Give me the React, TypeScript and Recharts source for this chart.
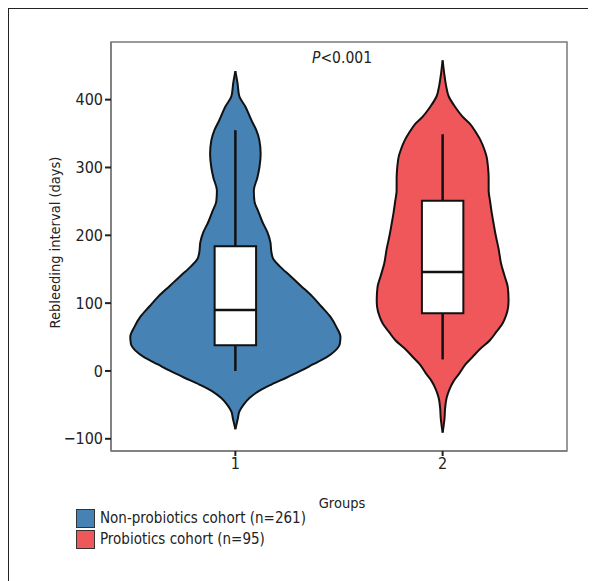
import React from "react";
import {
  ComposedChart,
  Area,
  XAxis,
  YAxis,
  ReferenceArea,
  ReferenceLine,
} from "recharts";

// y axis ticks (days) and group positions
const yTicks = [-100, 0, 100, 200, 300, 400];
const groupTicks = [1, 2];
const groupNames = ["Non-probiotics cohort (n=261)", "Probiotics cohort (n=95)"];
const groupColors = ["#4682B4", "#EF575A"];

// violin outlines: day value -> half width (in group-axis units)
const blueDays = [-86, -70, -60, -50, -40, -30, -20, -10, 0, 10, 20, 30, 40, 50, 65, 80, 95, 110, 125, 140, 155, 165, 175, 190, 205, 220, 235, 250, 266, 285, 300, 320, 340, 355, 370, 390, 405, 425, 442];
const blueHalfWidth = [0, 0.012, 0.019, 0.039, 0.068, 0.111, 0.174, 0.246, 0.314, 0.376, 0.439, 0.482, 0.504, 0.507, 0.487, 0.458, 0.415, 0.371, 0.318, 0.265, 0.212, 0.183, 0.174, 0.169, 0.154, 0.13, 0.111, 0.092, 0.089, 0.106, 0.116, 0.122, 0.116, 0.101, 0.077, 0.048, 0.019, 0.01, 0];

const redDays = [-91, -70, -55, -40, -28, -15, -4, 10, 21, 33, 45, 58, 70, 80, 94, 105, 124, 140, 158, 180, 200, 217, 235, 250, 266, 285, 300, 316, 325, 340, 350, 365, 375, 389, 405, 420, 440, 458];
const redHalfWidth = [0, 0.009, 0.012, 0.019, 0.032, 0.053, 0.08, 0.111, 0.145, 0.183, 0.227, 0.26, 0.289, 0.304, 0.316, 0.318, 0.314, 0.299, 0.282, 0.27, 0.256, 0.246, 0.236, 0.229, 0.222, 0.222, 0.219, 0.212, 0.203, 0.183, 0.164, 0.13, 0.096, 0.061, 0.029, 0.017, 0.007, 0];

// box plot stats per group
const boxStats = [
  { group: 1, min: 0, q1: 38, median: 90, q3: 184, max: 355 },
  { group: 2, min: 17, q1: 85, median: 146, q3: 251, max: 349 },
];
const boxHalf = 0.1;

const xDomain = [0.4, 2.6];
const yDomain = [-118, 485];

const toRows = (center: number, days: number[], half: number[]) =>
  days.map((d, i) => ({ y: d, band: [center - half[i], center + half[i]] }));

const violins = [
  toRows(1, blueDays, blueHalfWidth),
  toRows(2, redDays, redHalfWidth),
];

const fmt = (v: number) => (v < 0 ? "\u2212" + Math.abs(v) : String(v));

const font = '"Liberation Sans Narrow", "DejaVu Sans Condensed", "Arial Narrow", sans-serif';
const ink = "#222";
const frame = "#7a7a7a";

export default function App() {
  return (
    <div
      style={{
        position: "relative",
        width: 587,
        height: 572,
        borderLeft: "1px solid #222",
        borderTop: "1px solid #222",
        fontFamily: font,
        color: ink,
      }}
    >
      <ComposedChart
        width={580}
        height={560}
        layout="vertical"
        margin={{ top: 33, right: 22, bottom: 56, left: 0 }}
      >
        <XAxis
          type="number"
          domain={xDomain}
          ticks={groupTicks}
          allowDataOverflow
          height={62}
          tickSize={5}
          axisLine={{ stroke: frame, strokeWidth: 1.5 }}
          tickLine={{ stroke: ink, strokeWidth: 2 }}
          tick={{ fill: ink, fontSize: 16 }}
          label={{ value: "Groups", position: "insideBottom", offset: 5, dx: 3, style: { fill: ink, fontSize: 14.5 } }}
        />
        <YAxis
          type="number"
          dataKey="y"
          domain={yDomain}
          ticks={yTicks}
          allowDataOverflow
          reversed
          width={102}
          tickSize={6}
          tickFormatter={fmt}
          axisLine={{ stroke: frame, strokeWidth: 1.5 }}
          tickLine={{ stroke: ink, strokeWidth: 2 }}
          tick={{ fill: ink, fontSize: 16 }}
          label={{
            value: "Rebleeding interval (days)",
            angle: -90,
            position: "insideLeft",
            offset: 46,
            dy: -4,
            style: { textAnchor: "middle", fill: ink, fontSize: 14.5 },
          }}
        />
        {/* panel frame */}
        <ReferenceArea
          x1={xDomain[0]}
          x2={xDomain[1]}
          y1={yDomain[0]}
          y2={yDomain[1]}
          fill="none"
          stroke={frame}
          strokeWidth={1.5}
          ifOverflow="visible"
          zIndex={50}
        />
        {violins.map((rows, i) => (
          <Area
            key={i}
            data={rows}
            dataKey="band"
            type="monotone"
            fill={groupColors[i]}
            fillOpacity={1}
            stroke="#111"
            strokeWidth={2}
            isAnimationActive={false}
          />
        ))}
        {boxStats.map((b) => (
          <ReferenceLine
            key={"wl" + b.group}
            segment={[{ x: b.group, y: b.min }, { x: b.group, y: b.q1 }]}
            stroke="#111"
            strokeWidth={2.5}
            zIndex={700}
          />
        ))}
        {boxStats.map((b) => (
          <ReferenceLine
            key={"wh" + b.group}
            segment={[{ x: b.group, y: b.q3 }, { x: b.group, y: b.max }]}
            stroke="#111"
            strokeWidth={2.5}
            zIndex={700}
          />
        ))}
        {boxStats.map((b) => (
          <ReferenceArea
            key={"box" + b.group}
            x1={b.group - boxHalf}
            x2={b.group + boxHalf}
            y1={b.q1}
            y2={b.q3}
            fill="#fff"
            fillOpacity={1}
            stroke="#111"
            strokeWidth={2}
            zIndex={750}
          />
        ))}
        {boxStats.map((b) => (
          <ReferenceLine
            key={"med" + b.group}
            segment={[{ x: b.group - boxHalf, y: b.median }, { x: b.group + boxHalf, y: b.median }]}
            stroke="#111"
            strokeWidth={2.5}
            zIndex={800}
          />
        ))}
      </ComposedChart>

      <div
        style={{
          position: "absolute",
          left: 333,
          top: 39,
          transform: "translateX(-50%)",
          fontSize: 15.5,
          lineHeight: "20px",
          whiteSpace: "nowrap",
        }}
      >
        <i>P</i>&lt;0.001
      </div>

      <div style={{ position: "absolute", left: 67, top: 499 }}>
        {groupNames.map((name, i) => (
          <div key={name} style={{ display: "flex", alignItems: "center", height: 21 }}>
            <span
              style={{
                width: 17,
                height: 17,
                background: groupColors[i],
                border: "1.5px solid #333",
                marginRight: 5,
                flex: "none",
              }}
            />
            <span style={{ fontSize: 15, lineHeight: "21px", whiteSpace: "nowrap" }}>{name}</span>
          </div>
        ))}
      </div>
    </div>
  );
}
